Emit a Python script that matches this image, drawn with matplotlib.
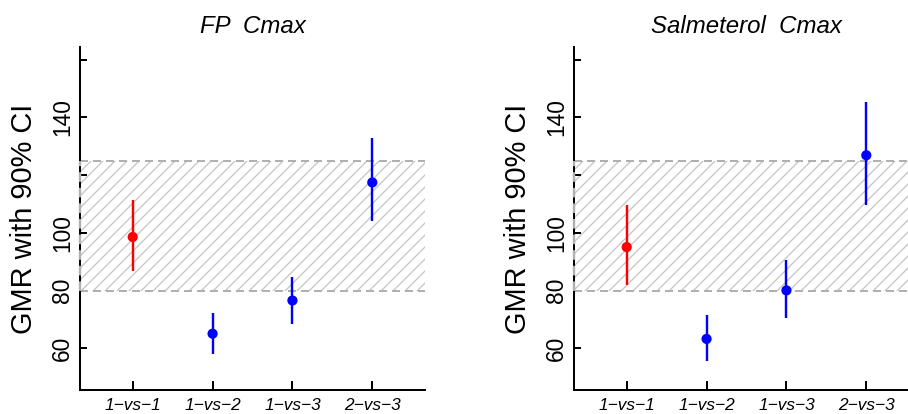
import numpy as np
import matplotlib
matplotlib.use('Agg')
import matplotlib.pyplot as plt
from matplotlib.patches import Rectangle

comparisons = ['1\u2212vs\u22121', '1\u2212vs\u22122', '1\u2212vs\u22123', '2\u2212vs\u22123']
point_colors = ['red', 'blue', 'blue', 'blue']

fp_gmr = [98.6, 65.1, 76.6, 117.5]
fp_lower = [86.7, 58.0, 68.4, 104.2]
fp_upper = [111.4, 72.2, 84.9, 132.8]

sal_gmr = [95.1, 63.3, 80.1, 126.9]
sal_lower = [82.1, 55.7, 70.7, 109.7]
sal_upper = [109.7, 71.6, 90.7, 145.4]

be_limits = [80, 125]
y_ticks = [60, 80, 100, 120, 140, 160]
y_tick_labels = ['60', '80', '100', '', '140', '']

DPI = 144
plt.rcParams['font.family'] = ['Liberation Sans', 'DejaVu Sans']
plt.rcParams['hatch.color'] = '#c8c8c8'
plt.rcParams['hatch.linewidth'] = 0.7


def plot_panel(ax, title, gmr, lower, upper):
  """""
    Plot one GMR panel with the bioequivalence band

    Parameters
    ----------
    ax: Axes
    title: str
    gmr, lower, upper: lists of values

    Returns
    -------
    None

  """
  x = np.arange(1, len(comparisons) + 1)
  ax.set_xlim(0.34, 4.66)
  ax.set_ylim(45.6, 164.4)

  band = Rectangle((0.34, be_limits[0]), 4.32, be_limits[1] - be_limits[0],
                   facecolor='none', edgecolor='#c8c8c8', hatch='////', linewidth=0, zorder=1)
  ax.add_patch(band)
  for lim in be_limits:
    ax.axhline(lim, color='#b0b0b0', linewidth=1, dashes=(4, 2.5), zorder=2)
  ax.vlines(0.34, be_limits[0], be_limits[1], color='#b0b0b0', linewidth=1.2,
            linestyles=[(0, (4, 2.5))], zorder=4, clip_on=False)

  ax.vlines(x, lower, upper, colors=point_colors, linewidth=1.2, zorder=3)
  ax.scatter(x, gmr, c=point_colors, s=26, zorder=3, linewidths=0)

  ax.set_title(title, fontsize=12, style='italic', pad=7)
  ax.set_xticks(x)
  ax.set_xticklabels(comparisons, fontsize=8.6, style='italic')
  ax.set_yticks(y_ticks)
  ax.set_yticklabels(y_tick_labels, fontsize=11.4, rotation=90, va='center')
  ax.tick_params(axis='x', direction='in', length=4.5, width=1, pad=4)
  ax.tick_params(axis='y', direction='in', length=3.5, width=1, pad=3)
  ax.set_ylabel('GMR with 90% CI', fontsize=14.5, va='center')
  ax.yaxis.set_label_coords(-0.162, 0.5)

  ax.spines['top'].set_visible(False)
  ax.spines['right'].set_visible(False)
  for side in ['left', 'bottom']:
    ax.spines[side].set_linewidth(1)


fig = plt.figure(figsize=(908 / DPI, 414 / DPI), dpi=DPI)
ax1 = fig.add_axes([80 / 908, 24 / 414, 345 / 908, 343 / 414])
ax2 = fig.add_axes([574 / 908, 24 / 414, 345 / 908, 343 / 414])

plot_panel(ax1, 'FP  Cmax', fp_gmr, fp_lower, fp_upper)
plot_panel(ax2, 'Salmeterol  Cmax', sal_gmr, sal_lower, sal_upper)

plt.savefig('out.png', dpi=DPI)
